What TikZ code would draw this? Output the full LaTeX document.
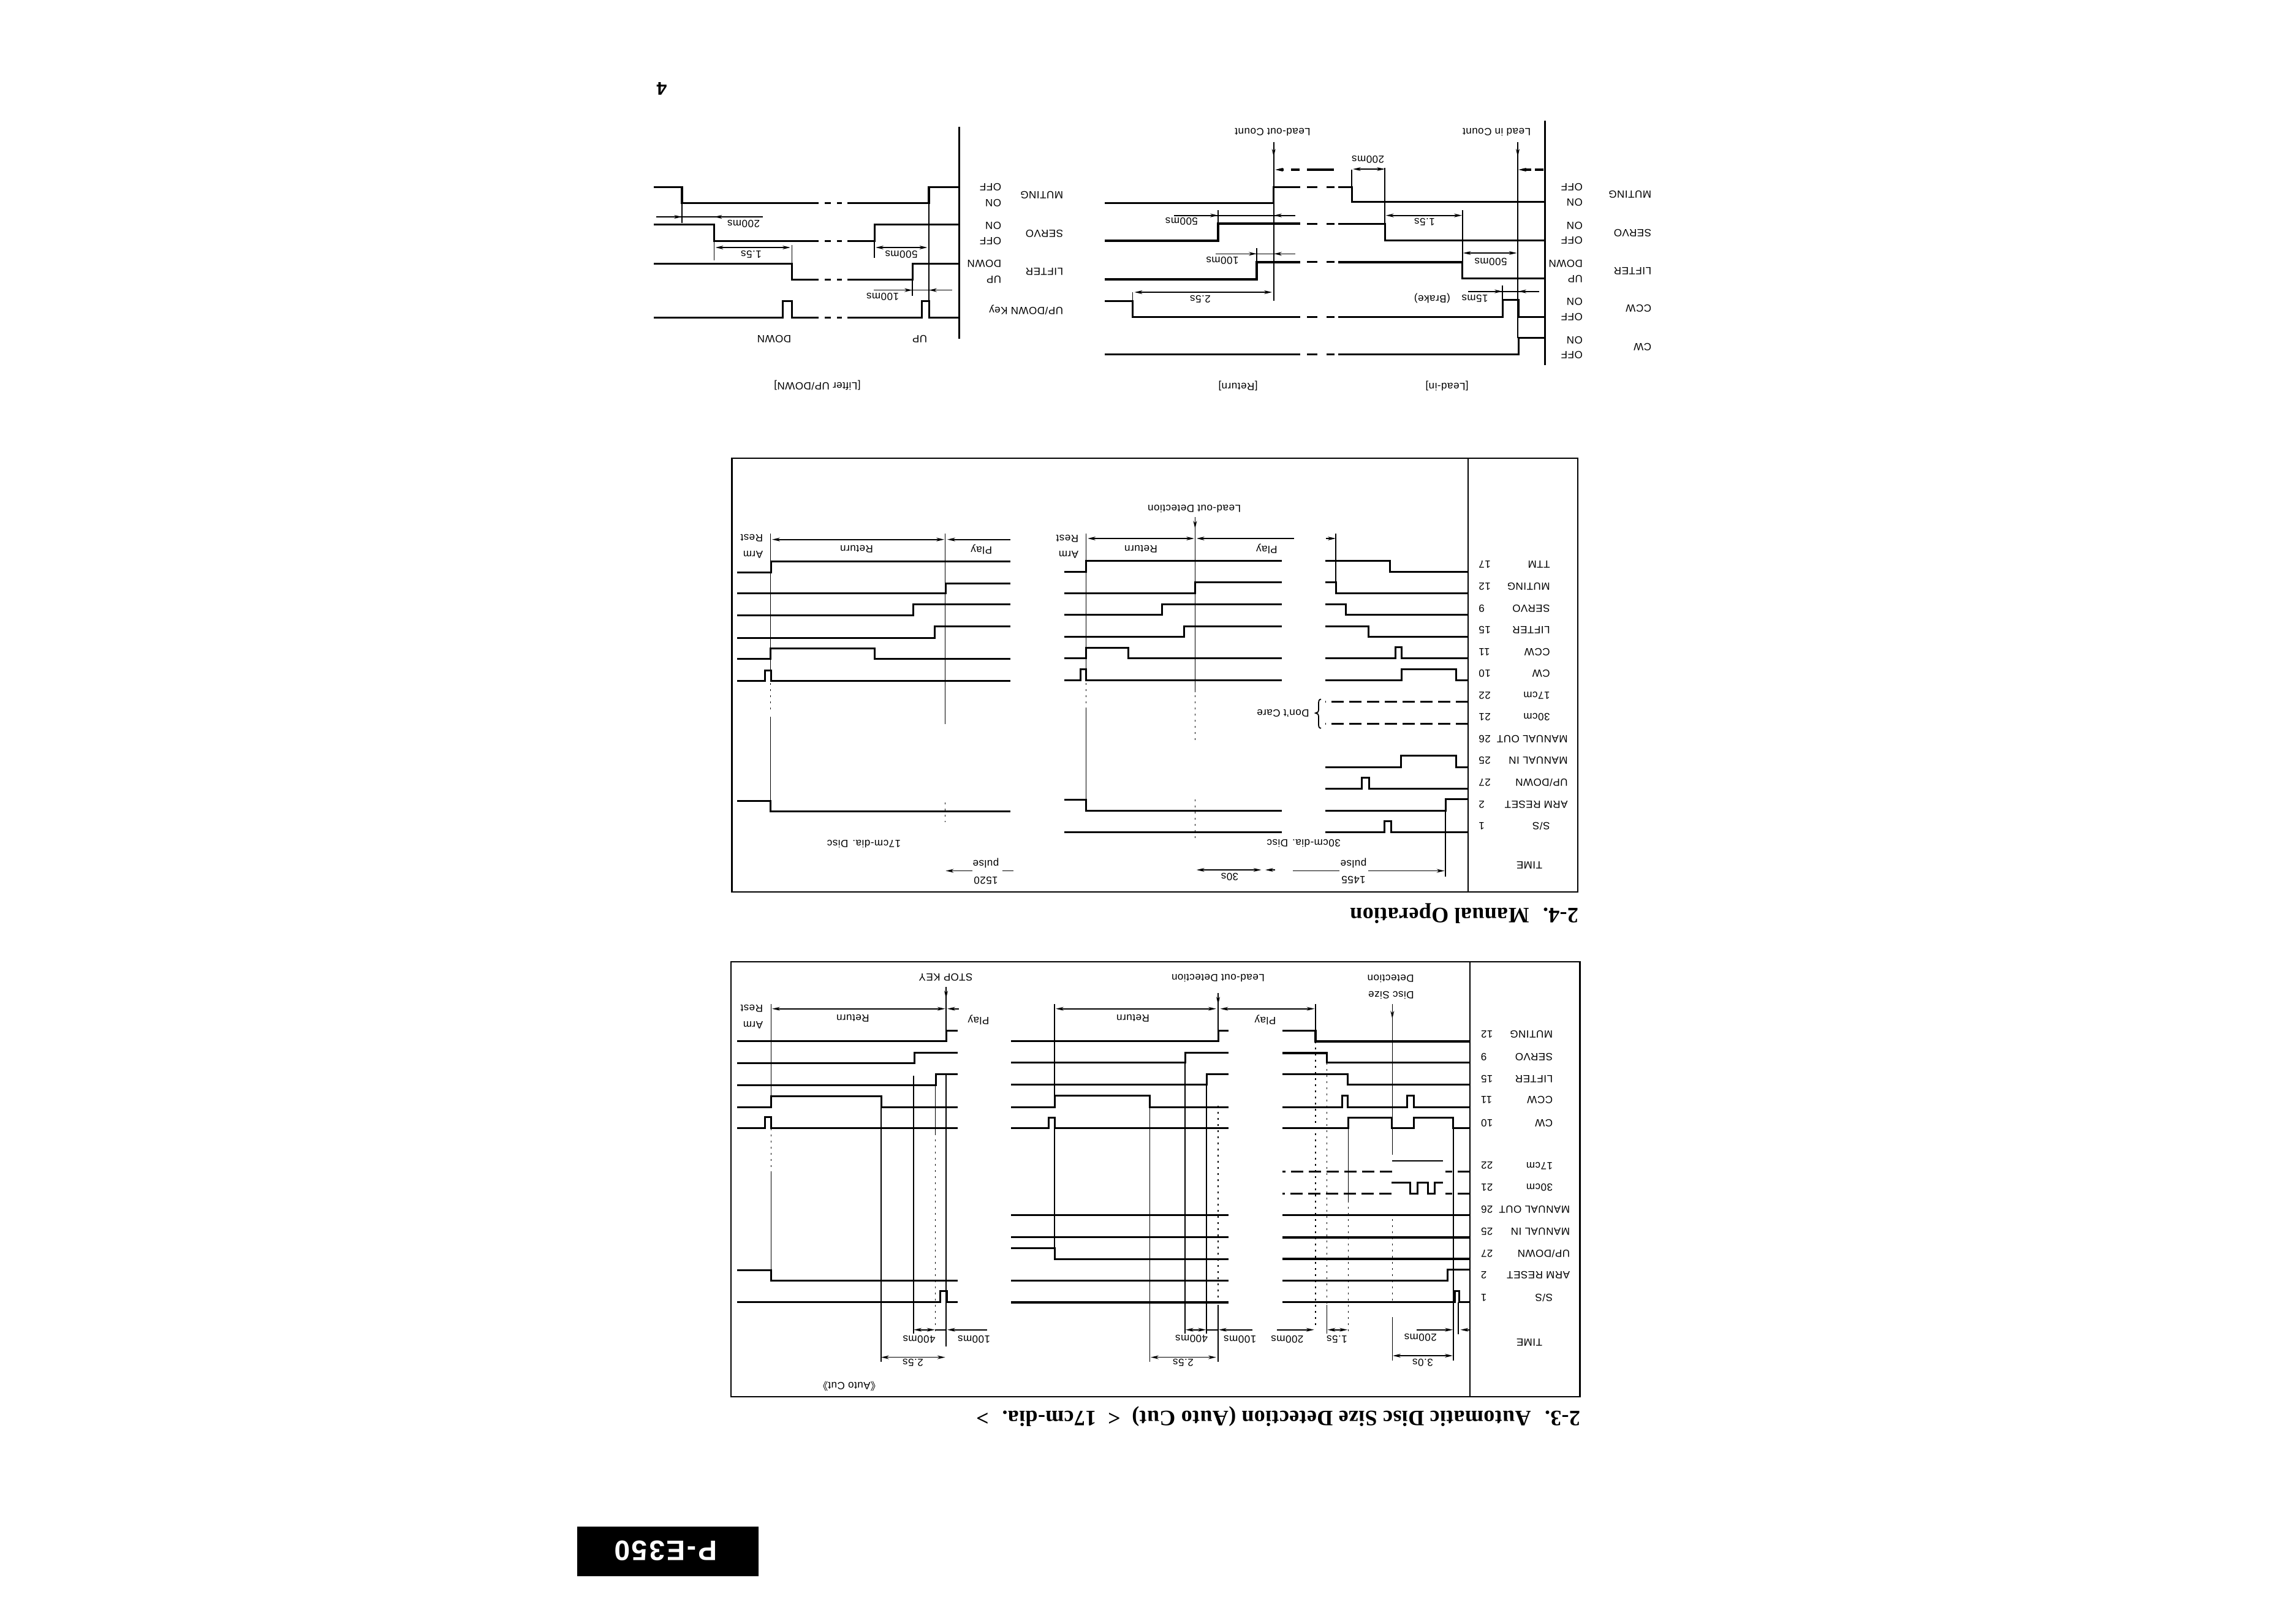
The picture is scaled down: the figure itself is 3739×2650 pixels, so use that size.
\documentclass[tikz,border=0pt]{standalone}
\usepackage{fontspec}
\setmainfont[LetterSpace=3]{Liberation Sans}
\newfontfamily\headfont[LetterSpace=1]{Liberation Serif}
\newfontfamily\codefont[LetterSpace=6]{Liberation Sans}
\newfontfamily\cjkfont{Noto Sans CJK SC}
\usetikzlibrary{arrows.meta}
\newcounter{lblno}
% Upside-down labels: \lbS = text starts at the given point, \lbM = centred, \lbE = text ends there
\newcommand{\lbS}[3]{\stepcounter{lblno}\node[txt,anchor=west,name=lbl\arabic{lblno}] at (#1,#2) {#3};}
\newcommand{\lbM}[3]{\stepcounter{lblno}\node[txt,anchor=center,name=lbl\arabic{lblno}] at (#1,#2) {#3};}
\newcommand{\lbE}[3]{\stepcounter{lblno}\node[txt,anchor=east,name=lbl\arabic{lblno}] at (#1,#2) {#3};}
\tikzset{
  txt/.style={rotate=180,inner sep=0pt,outer sep=0pt,font=\fontsize{17}{20}\selectfont},
  sigline/.style={line width=3.6pt,line join=miter,line cap=butt},
  midline/.style={line width=3pt,line join=miter,line cap=butt},
  guide/.style={line width=1.6pt},
  faint/.style={line width=1.5pt,dash pattern=on 3pt off 7pt},
  dimline/.style={line width=1.6pt},
  careline/.style={line width=3pt,dash pattern=on 20pt off 9pt},
  frame/.style={line width=2.6pt},
  >={Stealth[length=13pt,width=6pt]}
}
\begin{document}
\begin{tikzpicture}[x=1pt,y=-1pt]
\useasboundingbox (0,0) rectangle (3739,2650);
\fill[white] (0,0) rectangle (3739,2650);

% ---------- Lifter UP/DOWN ----------
\draw[sigline] (1565.5,207) -- (1565.5,553);
\draw[sigline] (1565.5,305.4) -- (1516,305.4) -- (1516,331.4) -- (1383,331.4);
\draw[sigline] (1336,331.4) -- (1113,331.4) -- (1113,305.4) -- (1066.5,305.4);
\draw[midline] (1565.5,366.4) -- (1427,366.4) -- (1427,393.6) -- (1383,393.6);
\draw[sigline] (1336,393.6) -- (1165.5,393.6) -- (1165.5,366.4) -- (1066.5,366.4);
\draw[midline] (1565.5,430.4) -- (1489.5,430.4) -- (1489.5,456) -- (1383,456);
\draw[midline] (1336,456) -- (1292,456) -- (1292,430.4) -- (1066.5,430.4);
\draw[midline] (1565.5,518.2) -- (1516,518.2) -- (1516,491.8) -- (1504,491.8) -- (1504,518.2) -- (1383,518.2);
\draw[midline] (1336,518.2) -- (1292,518.2) -- (1292,491.8) -- (1277.8,491.8) -- (1277.8,518.2) -- (1066.5,518.2);
\foreach \yy in {331.4,393.6,456,518.2}{
  \draw[midline] (1346,\yy) -- (1356,\yy) (1366,\yy) -- (1374,\yy);
}
\draw[guide] (1516,331.4) -- (1516,491.8);
\draw[guide] (1113,331.4) -- (1113,364);
\draw[guide] (1165.5,393.6) -- (1165.5,425);
\draw[guide] (1292.5,400) -- (1292.5,456);
\draw[guide] (1427,393.6) -- (1427,420.7);
\draw[guide] (1489,456) -- (1489,482.9);
\draw[dimline] (1070.6,354) -- (1245,354);
\draw[dimline,->] (1095,354) -- (1113,354);
\draw[dimline,->] (1185,354) -- (1165.5,354);
\draw[dimline,<->] (1167.5,404) -- (1290,404);
\draw[dimline,<->] (1429,404) -- (1513.5,404);
\draw[dimline] (1426,473.6) -- (1554,473.6);
\draw[dimline,->] (1470,473.6) -- (1489,473.6);
\draw[dimline,->] (1535,473.6) -- (1516,473.6);
\lbM{1213.5}{365}{200ms}
\lbM{1226}{415}{1.5s}
\lbM{1471}{415}{500ms}
\lbM{1440.5}{484}{100ms}
\lbS{1634}{305}{OFF}
\lbS{1634}{331.4}{ON}
\lbS{1634}{368}{ON}
\lbS{1634}{393.6}{OFF}
\lbS{1634}{430}{DOWN}
\lbS{1634}{456}{UP}
\lbS{1735}{318.6}{MUTING}
\lbS{1735}{381}{SERVO}
\lbS{1735}{443.6}{LIFTER}
\lbS{1735}{506}{UP/DOWN Key}
\lbM{1263.5}{553}{DOWN}
\lbM{1501}{553}{UP}
\lbM{1334}{628.6}{[Lifter UP/DOWN]}
\stepcounter{lblno}\node[txt,name=pageno,font=\fontsize{30}{32}\selectfont\bfseries] at (1080,144.6) {4};

% ---------- Lead-in / Return ----------
\draw[sigline] (2521.6,197.3) -- (2521.6,595.7);
\draw[midline] (2521.6,329) -- (2206,329) -- (2206,305) -- (2184,305);
\draw[midline] (2122,305) -- (2078.7,305) -- (2078.7,331) -- (1803,331);
\draw[midline] (2521.6,392.3) -- (2260,392.3) -- (2260,365) -- (2184,365);
\draw[sigline] (2122,365) -- (1988,365) -- (1988,393) -- (1803,393);
\draw[sigline] (2521.6,454.3) -- (2386.5,454.3) -- (2386.5,427.7) -- (2184,427.7);
\draw[sigline] (2122,427.7) -- (2051,427.7) -- (2051,456) -- (1803,456);
\draw[midline] (2521.6,517) -- (2478,517) -- (2478,489.7) -- (2452,489.7) -- (2452,517) -- (2184,517);
\draw[midline] (2122,517) -- (1848.5,517) -- (1848.5,491) -- (1803,491);
\draw[midline] (2521.6,551.7) -- (2478,551.7) -- (2478,578.7) -- (2184,578.7);
\draw[midline] (2122,578.7) -- (1803,578.7);
\foreach \yy in {305,365,427.7,517,578.7}{
  \draw[midline] (2133,\yy) -- (2150,\yy) (2165,\yy) -- (2178,\yy);
}
\draw[guide] (2477,232.3) -- (2477,551.7);
\draw[guide,->] (2477,232.3) -- (2477,256);
\draw[guide] (2078.7,231.7) -- (2078.7,490.7);
\draw[guide,->] (2078.7,231.7) -- (2078.7,256);
\draw[guide] (2206,276.7) -- (2206,305);
\draw[guide] (2260,274) -- (2260,365);
\draw[guide] (2387,343) -- (2387,427.7);
\draw[guide] (1988,343) -- (1988,365);
\draw[guide] (2051,405) -- (2051,427.7);
\draw[guide] (2452,466) -- (2452,489.7);
\draw[guide] (1848.5,476.7) -- (1848.5,491);
% short muting stubs with arrows running into the count lines
\draw[sigline,dash pattern=on 14pt off 6pt,->] (2519,277) -- (2478,277);
\draw[sigline,dash pattern=on 44pt off 12pt on 14pt off 12pt,->] (2177,277) -- (2081,277);
\draw[dimline,<->] (2208,276) -- (2260,276);
\draw[dimline] (1916,351.7) -- (2114.4,351.7);
\draw[dimline,->] (1965,351.7) -- (1988,351.7);
\draw[dimline,->] (2100,351.7) -- (2079,351.7);
\draw[dimline,<->] (2261.7,351.7) -- (2386,351.7);
\draw[dimline] (1984,414.3) -- (2114,414.3);
\draw[dimline,->] (2032,414.3) -- (2051,414.3);
\draw[dimline,->] (2100,414.3) -- (2079,414.3);
\draw[dimline,<->] (2387.7,413) -- (2475.5,413);
\draw[dimline,<->] (1851.5,477) -- (2076,477);
\draw[dimline] (2396,475.7) -- (2512,475.7);
\draw[dimline,->] (2435,475.7) -- (2452,475.7);
\draw[dimline,->] (2497,475.7) -- (2478,475.7);
\lbM{2232.6}{260}{200ms}
\lbM{1928.4}{361.7}{500ms}
\lbM{2325}{362.7}{1.5s}
\lbM{1995}{425}{100ms}
\lbM{2433}{427.3}{500ms}
\lbM{1959}{488.3}{2.5s}
\lbM{2407}{487.3}{15ms}
\lbM{2337.4}{487.3}{(Brake)}
\lbS{2138.7}{216}{Lead-out Count}
\lbS{2498}{216}{Lead in Count}
\lbM{2020.5}{630}{[Return]}
\lbM{2361.6}{630}{[Lead-in]}
\lbS{2582.8}{305}{OFF}
\lbS{2582.8}{330}{ON}
\lbS{2582.8}{368.3}{ON}
\lbS{2582.8}{392}{OFF}
\lbS{2582.8}{430.7}{DOWN}
\lbS{2582.8}{455}{UP}
\lbS{2582.8}{492.7}{ON}
\lbS{2582.8}{517.3}{OFF}
\lbS{2582.8}{555}{ON}
\lbS{2582.8}{579}{OFF}
\lbS{2695}{317.3}{MUTING}
\lbS{2695}{380}{SERVO}
\lbS{2695}{442.3}{LIFTER}
\lbS{2695}{503.3}{CCW}
\lbS{2695}{566.7}{CW}

% ---------- 2-4 Manual Operation ----------
\draw[frame] (1194.5,748) rectangle (2575,1456);
\draw[line width=2pt] (2395.5,748) -- (2395.5,1456);
% first block, 30 cm disc
\draw[midline] (2395.5,933.5) -- (2268.8,933.5) -- (2268.8,915.6) -- (2162.5,915.6);
\draw[midline] (2395.5,968.8) -- (2180,968.8) -- (2180,950.4) -- (2162.5,950.4);
\draw[midline] (2395.5,1003.6) -- (2196.9,1003.6) -- (2196.9,986.7) -- (2162.5,986.7);
\draw[midline] (2395.5,1039.5) -- (2233.5,1039.5) -- (2233.5,1022) -- (2162.5,1022);
\draw[midline] (2395.5,1074.8) -- (2287.5,1074.8) -- (2287.5,1056.9) -- (2277,1056.9) -- (2277,1074.8) -- (2162.5,1074.8);
\draw[midline] (2395.5,1110.6) -- (2376,1110.6) -- (2376,1092) -- (2287.5,1092) -- (2287.5,1110.6) -- (2162.5,1110.6);
\draw[careline] (2395.5,1145.4) -- (2162.5,1145.4);
\draw[careline] (2395.5,1181) -- (2162.5,1181);
\draw[midline] (2395.5,1252.4) -- (2376,1252.4) -- (2376,1233.5) -- (2286.6,1233.5) -- (2286.6,1252.4) -- (2162.5,1252.4);
\draw[midline] (2395.5,1287.2) -- (2234.8,1287.2) -- (2234.8,1269.8) -- (2222.3,1269.8) -- (2222.3,1287.2) -- (2162.5,1287.2);
\draw[midline] (2395.5,1304.6) -- (2359,1304.6) -- (2359,1323) -- (2162.5,1323);
\draw[midline] (2395.5,1358.4) -- (2270.5,1358.4) -- (2270.5,1340) -- (2259.4,1340) -- (2259.4,1358.4) -- (2162.5,1358.4);
\draw[line width=1.8pt] (2156,1141.4) .. controls (2152,1141.4) and (2152,1145) .. (2152,1150) -- (2152,1158) .. controls (2152,1162) and (2150,1164) .. (2147,1164) .. controls (2150,1164) and (2152,1166) .. (2152,1170) -- (2152,1180) .. controls (2152,1186) and (2152,1188.7) .. (2156,1188.7);
\draw[guide] (2180,870.8) -- (2180,950.4);
\draw[guide,->] (2164,879) -- (2180,879);
\draw[guide] (2359,1323) -- (2359,1430.5);
\draw[dimline] (2109.8,1421.5) -- (2185.7,1421.5);
\draw[dimline,->] (2232.6,1421.5) -- (2357.6,1421.5);
\lbM{2209}{1409}{pulse}
\lbM{2209}{1436.5}{1455}
\draw[dimline,<->] (1952.7,1420) -- (2058.5,1420);
\draw[dimline,->] (2081,1420) -- (2065,1420);
\lbM{2007}{1431.5}{30s}
\lbM{2127.7}{1376.8}{30cm-dia. Disc}
\lbM{2067.4}{895.7}{Play}
\draw[dimline,<-] (1952.7,879) -- (2112,879);
\draw[dimline,<->] (1775,879) -- (1949,879);
\draw[guide] (1950.4,844.4) -- (1950.4,1130);
\draw[guide,->] (1950.4,844.4) -- (1950.4,863);
\draw[faint] (1950.4,1135) -- (1950.4,1215);
\draw[faint] (1950.4,1305) -- (1950.4,1375);
\lbS{2025}{831}{Lead-out Detection}
% second block
\draw[midline] (2092,915.6) -- (1772.3,915.6) -- (1772.3,933.5) -- (1736.5,933.5);
\draw[midline] (2092,950.4) -- (1950.4,950.4) -- (1950.4,968.8) -- (1736.5,968.8);
\draw[midline] (2092,986.7) -- (1896,986.7) -- (1896,1003.6) -- (1736.5,1003.6);
\draw[midline] (2092,1022) -- (1932,1022) -- (1932,1039.5) -- (1736.5,1039.5);
\draw[midline] (2092,1074.8) -- (1841.7,1074.8) -- (1841.7,1057) -- (1772.3,1057) -- (1772.3,1074.8) -- (1736.5,1074.8);
\draw[midline] (2092,1110.6) -- (1772.3,1110.6) -- (1772.3,1092) -- (1763,1092) -- (1763,1110.6) -- (1736.5,1110.6);
\draw[midline] (2092,1323) -- (1772.3,1323) -- (1772.3,1305) -- (1736.5,1305);
\draw[midline] (2092,1358.4) -- (1736.5,1358.4);
\draw[guide] (1772.3,870.8) -- (1772.3,1110);
\draw[faint] (1772.3,1115) -- (1772.3,1150);
\draw[guide] (1772.3,1155) -- (1772.3,1323);
\lbS{1760}{879}{Rest}
\lbS{1760}{905}{Arm}
\lbM{1862}{896.7}{Return}
% third block, 17 cm disc
\draw[midline] (1649,916) -- (1258.5,916) -- (1258.5,934) -- (1203,934);
\draw[midline] (1649,952) -- (1543.5,952) -- (1543.5,968.8) -- (1203,968.8);
\draw[midline] (1649,986.7) -- (1490,986.7) -- (1490,1004.6) -- (1203,1004.6);
\draw[midline] (1649,1022.5) -- (1525.6,1022.5) -- (1525.6,1041) -- (1203,1041);
\draw[midline] (1649,1075.8) -- (1427.7,1075.8) -- (1427.7,1058) -- (1257.6,1058) -- (1257.6,1075.8) -- (1203,1075.8);
\draw[midline] (1649,1111.6) -- (1258,1111.6) -- (1258,1094) -- (1248.8,1094) -- (1248.8,1111.6) -- (1203,1111.6);
\draw[midline] (1649,1324) -- (1257.6,1324) -- (1257.6,1307) -- (1203,1307);
\draw[guide] (1257.6,870.8) -- (1257.6,1111);
\draw[faint] (1257.6,1115) -- (1257.6,1165);
\draw[guide] (1257.6,1170) -- (1257.6,1324);
\draw[guide] (1542.6,870.8) -- (1542.6,1181.7);
\draw[faint] (1542.6,1310) -- (1542.6,1342);
\draw[dimline,<->] (1260,880.7) -- (1541,880.7);
\draw[dimline,<-] (1546,880.7) -- (1649,880.7);
\lbM{1601.7}{896.7}{Play}
\lbM{1398}{896.7}{Return}
\lbS{1245}{877.8}{Rest}
\lbS{1245}{905}{Arm}
\lbM{1410}{1378}{17cm-dia. Disc}
\draw[dimline,<-] (1543.5,1421.5) -- (1587,1421.5);
\draw[dimline] (1635.6,1421.5) -- (1654,1421.5);
\lbM{1609}{1409}{pulse}
\lbM{1609}{1437.5}{1520}
% signal names and pin numbers
\lbS{2136.6}{1164}{Don't Care}
\lbS{2529.5}{921.5}{TTM}
\lbS{2529.5}{957.4}{MUTING}
\lbS{2529.5}{993.7}{SERVO}
\lbS{2529.5}{1028.5}{LIFTER}
\lbS{2529.5}{1064.3}{CCW}
\lbS{2529.5}{1099.7}{CW}
\lbS{2529.5}{1135.5}{17cm}
\lbS{2529.5}{1170.3}{30cm}
\lbS{2558.5}{1206.6}{MANUAL OUT}
\lbS{2558.5}{1241.4}{MANUAL IN}
\lbS{2558.5}{1277.3}{UP/DOWN}
\lbS{2558.5}{1313}{ARM RESET}
\lbS{2529.5}{1348.4}{S/S}
\lbM{2496}{1412.6}{TIME}
\lbE{2413.4}{921.5}{17}
\lbE{2413.4}{957.4}{12}
\lbE{2413.4}{993.7}{9}
\lbE{2413.4}{1028.5}{15}
\lbE{2413.4}{1064.3}{11}
\lbE{2413.4}{1099.7}{10}
\lbE{2413.4}{1135.5}{22}
\lbE{2413.4}{1170.3}{21}
\lbE{2413.4}{1206.6}{26}
\lbE{2413.4}{1241.4}{25}
\lbE{2413.4}{1277.3}{27}
\lbE{2413.4}{1313}{2}
\lbE{2413.4}{1348.4}{1}
\stepcounter{lblno}\node[txt,anchor=west,name=head24,font=\fontsize{36}{40}\selectfont\headfont\bfseries] at (2576,1491) {2-4.\hspace{10pt} Manual Operation};

% ---------- 2-3 Automatic Disc Size Detection ----------
\draw[frame] (1193,1570) rectangle (2578.6,2280);
\draw[line width=2.2pt] (2398.7,1570) -- (2398.7,2280);
% first block
\draw[sigline] (2398.7,1699.8) -- (2146.9,1699.8) -- (2146.9,1682.4) -- (2093.3,1682.4);
\draw[sigline] (2398.7,1734.5) -- (2165.6,1734.5) -- (2165.6,1718.7) -- (2093.3,1718.7);
\draw[midline] (2398.7,1770.7) -- (2199.6,1770.7) -- (2199.6,1753.4) -- (2093.3,1753.4);
\draw[midline] (2398.7,1807) -- (2307.6,1807) -- (2307.6,1788.6) -- (2296.4,1788.6) -- (2296.4,1807) -- (2199.6,1807) -- (2199.6,1788.6) -- (2190,1788.6) -- (2190,1807) -- (2093.3,1807);
\draw[midline] (2398.7,1841.6) -- (2371.9,1841.6) -- (2371.9,1824.3) -- (2307.6,1824.3) -- (2307.6,1841.6) -- (2271.4,1841.6) -- (2271.4,1824.3) -- (2200.4,1824.3) -- (2200.4,1841.6) -- (2093.3,1841.6);
\draw[careline] (2398.7,1912.6) -- (2358.5,1912.6);
\draw[careline] (2272,1912.6) -- (2093.3,1912.6);
\draw[guide] (2355,1894.7) -- (2272,1894.7);
\draw[careline] (2398.7,1948.3) -- (2358.5,1948.3);
\draw[careline] (2271,1948.3) -- (2093.3,1948.3);
\draw[midline] (2355,1930) -- (2341,1930) -- (2341,1948.3) -- (2330.8,1948.3) -- (2330.8,1930) -- (2313,1930) -- (2313,1948.3) -- (2301.8,1948.3) -- (2301.8,1930) -- (2271.4,1930);
\draw[sigline] (2398.7,1983.5) -- (2093.3,1983.5);
\draw[sigline] (2398.7,2019.7) -- (2093.3,2019.7);
\draw[sigline] (2398.7,2055) -- (2093.3,2055);
\draw[midline] (2398.7,2072.8) -- (2362,2072.8) -- (2362,2090.6) -- (2093.3,2090.6);
\draw[midline] (2398.7,2125.8) -- (2381,2125.8) -- (2381,2107.4) -- (2374.6,2107.4) -- (2374.6,2125.8) -- (2093.3,2125.8);
\draw[guide] (2272.3,1639) -- (2272.3,1885);
\draw[guide,->] (2272.3,1639) -- (2272.3,1663);
\draw[faint] (2272.3,1990) -- (2272.3,2130);
\draw[guide] (2272.3,2150) -- (2272.3,2220.7);
\draw[guide] (2146.9,1639) -- (2146.9,1699.8);
\draw[faint] (2146.9,1700) -- (2146.9,2170);
\draw[faint] (2165.6,1735) -- (2165.6,2130);
\draw[guide] (2165.6,2130) -- (2165.6,2177);
\draw[guide] (2200.4,1841.6) -- (2200.4,1960);
\draw[faint] (2200.4,1960) -- (2200.4,2177);
\draw[guide] (2371.9,1841.6) -- (2371.9,2220.7);
\draw[guide] (2380,2125.8) -- (2380,2178);
% second block
\draw[midline] (2005,1682.4) -- (1988,1682.4) -- (1988,1699.8) -- (1650,1699.8);
\draw[midline] (2005,1718.7) -- (1934,1718.7) -- (1934,1734.5) -- (1650,1734.5);
\draw[midline] (2005,1753.4) -- (1969,1753.4) -- (1969,1770.7) -- (1650,1770.7);
\draw[midline] (2005,1807) -- (1876.6,1807) -- (1876.6,1788.6) -- (1721,1788.6) -- (1721,1807) -- (1650,1807);
\draw[midline] (2005,1841.6) -- (1721,1841.6) -- (1721,1824) -- (1711.3,1824) -- (1711.3,1841.6) -- (1650,1841.6);
\draw[midline] (2005,1983.5) -- (1650,1983.5);
\draw[midline] (2005,2019.7) -- (1650,2019.7);
\draw[midline] (2005,2055) -- (1721,2055) -- (1721,2037) -- (1650,2037);
\draw[midline] (2005,2090.6) -- (1650,2090.6);
\draw[sigline] (2005,2125.8) -- (1650,2125.8);
\draw[guide] (1988,1621) -- (1988,1682);
\draw[guide,->] (1988,1621) -- (1988,1640);
\draw[faint] (1988,1805) -- (1988,2130);
\draw[guide] (1988,2130) -- (1988,2223);
\draw[guide] (1969.2,1770.7) -- (1969.2,2177);
\draw[guide] (1934,1734.5) -- (1934,2177);
\draw[guide] (1876.6,1807) -- (1876.6,2223);
\draw[guide] (1721,1639) -- (1721,1790);
\draw[guide] (1721,1841) -- (1721,2055);
% third block
\draw[midline] (1563,1682) -- (1544,1682) -- (1544,1699.8) -- (1203,1699.8);
\draw[midline] (1563,1718) -- (1492.6,1718) -- (1492.6,1735.5) -- (1203,1735.5);
\draw[midline] (1563,1753.4) -- (1527,1753.4) -- (1527,1771) -- (1203,1771);
\draw[midline] (1563,1807) -- (1438.4,1807) -- (1438.4,1789) -- (1258.5,1789) -- (1258.5,1807) -- (1203,1807);
\draw[midline] (1563,1841.6) -- (1258.5,1841.6) -- (1258.5,1823.8) -- (1248.8,1823.8) -- (1248.8,1841.6) -- (1203,1841.6);
\draw[midline] (1563,2090.6) -- (1258.5,2090.6) -- (1258.5,2073) -- (1203,2073);
\draw[midline] (1563,2125.8) -- (1545,2125.8) -- (1545,2107.4) -- (1534.3,2107.4) -- (1534.3,2125.8) -- (1203,2125.8);
\draw[guide] (1544,1611) -- (1544,1682);
\draw[guide,->] (1544,1611) -- (1544,1630);
\draw[guide] (1544,1754) -- (1544,2198);
\draw[guide] (1258.5,1639) -- (1258.5,1789);
\draw[faint] (1258.5,1842) -- (1258.5,1915);
\draw[guide] (1258.5,1915) -- (1258.5,2090.6);
\draw[guide] (1437.9,1806) -- (1437.9,2223);
\draw[guide] (1491,1756) -- (1491,2177);
\draw[guide] (1526.6,1771) -- (1526.6,1850);
\draw[faint] (1526.6,1850) -- (1526.6,2177);
\draw[dimline,<->] (1260,1646.7) -- (1542.6,1646.7);
\draw[dimline,<-] (1546,1646.7) -- (1565,1646.7);
\lbM{1391.8}{1662}{Return}
\lbM{1597}{1664.6}{Play}
\lbS{1245}{1673}{Arm}
\lbS{1245}{1646.7}{Rest}
\lbM{1543.5}{1595.7}{STOP KEY}
\draw[dimline,<->] (1491.2,2170.7) -- (1525.6,2170.7);
\draw[dimline] (1525.6,2170.7) -- (1544,2170.7);
\draw[dimline,<-] (1546,2170.7) -- (1611.4,2170.7);
\lbM{1500}{2186}{400ms}
\lbM{1589.6}{2186}{100ms}
\draw[dimline,<->] (1437.9,2215.6) -- (1542.6,2215.6);
\lbM{1490}{2224.8}{2.5s}
\lbM{1386}{2263}{{\cjkfont 《}Auto Cut{\cjkfont 》}}
% middle block dimensions
\draw[dimline,<->] (1723,1646.7) -- (1984.8,1646.7);
\draw[dimline,<->] (1991.5,1646.7) -- (2145.5,1646.7);
\lbM{1849}{1662}{Return}
\lbM{2065}{1664.6}{Play}
\lbS{2063.8}{1596.7}{Lead-out Detection}
\lbS{2307.6}{1625}{Disc Size}
\lbS{2307.6}{1598}{Detection}
\draw[dimline,<->] (1934.8,2170.7) -- (1968.3,2170.7);
\draw[dimline] (1968.3,2170.7) -- (1989,2170.7);
\draw[dimline,<-] (1989,2170.7) -- (2044,2170.7);
\draw[dimline,->] (2084,2170.7) -- (2144.6,2170.7);
\draw[dimline,<->] (2166.5,2170.7) -- (2199,2170.7);
\draw[dimline,->] (2311.6,2170.7) -- (2371,2170.7);
\draw[dimline,<-] (2383.5,2170.7) -- (2397.8,2170.7);
\lbM{1944.6}{2185}{400ms}
\lbM{2023.7}{2186}{100ms}
\lbM{2100.9}{2186}{200ms}
\lbM{2182}{2186}{1.5s}
\lbM{2318.3}{2183.5}{200ms}
\draw[dimline,<->] (1878,2215.6) -- (1984.8,2215.6);
\lbM{1931}{2224.8}{2.5s}
\draw[dimline,<->] (2273,2213) -- (2371,2213);
\lbM{2321.9}{2224.8}{3.0s}
% signal names and pin numbers
\lbS{2534}{1688.6}{MUTING}
\lbS{2534}{1725.3}{SERVO}
\lbS{2534}{1761}{LIFTER}
\lbS{2534}{1795.7}{CCW}
\lbS{2534}{1833}{CW}
\lbS{2534}{1902.9}{17cm}
\lbS{2534}{1938.6}{30cm}
\lbS{2562}{1974.3}{MANUAL OUT}
\lbS{2562}{2010.5}{MANUAL IN}
\lbS{2562}{2046.2}{UP/DOWN}
\lbS{2562}{2081.4}{ARM RESET}
\lbS{2534}{2118.7}{S/S}
\lbM{2496}{2191}{TIME}
\lbE{2417}{1688.6}{12}
\lbE{2417}{1725.3}{9}
\lbE{2417}{1761}{15}
\lbE{2417}{1795.7}{11}
\lbE{2417}{1833}{10}
\lbE{2417}{1902.9}{22}
\lbE{2417}{1938.6}{21}
\lbE{2417}{1974.3}{26}
\lbE{2417}{2010.5}{25}
\lbE{2417}{2046.2}{27}
\lbE{2417}{2081.4}{2}
\lbE{2417}{2118.7}{1}
\stepcounter{lblno}\node[txt,anchor=west,name=head23,font=\fontsize{36}{40}\selectfont\headfont\bfseries] at (2579,2312.5) {2-3.\hspace{10pt} Automatic Disc Size Detection (Auto Cut) \ < \ 17cm-dia. \ >};

% ---------- Model plate ----------
\fill[black] (942,2491.7) rectangle (1237.7,2573);
\stepcounter{lblno}\node[txt,anchor=west,name=model,text=white,font=\fontsize{46}{50}\selectfont\codefont\bfseries] at (1170,2531.7) {P-E350};
\end{tikzpicture}
\end{document}
